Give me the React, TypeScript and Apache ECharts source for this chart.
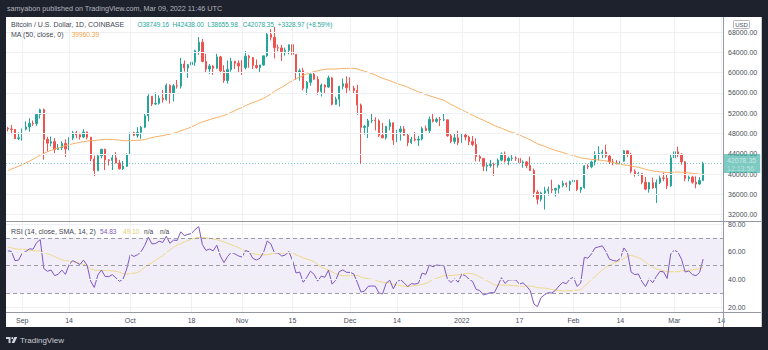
import React, { useEffect, useRef } from "react";
import * as echarts from "echarts";

// ---------- data ----------
const startYear = 2021;
const startMonth = 7; // August (0-based)
const startDay = 28;
const futureSlots = 5;

// closes before the visible window (Jul 9 - Aug 27 2021), used only for MA / RSI warm-up
const warmupCloses = [
  33800, 33500, 34250, 33100, 32700, 32800, 31850, 31400, 31550, 31800,
  30850, 29800, 32150, 32300, 33600, 34250, 35400, 37300, 39450, 40000,
  40000, 42200, 41450, 39850, 39150, 38200, 39750, 40900, 42850, 44600,
  43800, 46300, 45600, 45550, 44400, 47800, 47050, 47000, 45900, 44700,
  44800, 46700, 49300, 48900, 49300, 49550, 47700, 48950, 46850, 49050,
];

const firstOpen = 49050;

// Aug 28 2021 - Mar 9 2022
const closes = [
  48900, 48800, 46990, 47150,
  48850, 49300, 50000, 49950, 51750, 52700, 46850, 46100, 46400, 44850,
  45150, 46050, 44950, 47100, 48150, 47750, 47300, 48300, 47250, 43000,
  40700, 43600, 44900, 42800, 42700, 43200, 42200, 41050, 41550, 43800,
  48150, 47650, 48230, 49250, 51500, 55350, 53800, 53950, 54950, 54700,
  57500, 56000, 57400, 57350, 61700, 60900, 61550, 62050, 64300, 66000,
  62200, 60700, 61300, 60850, 63100, 60350, 58450, 60600, 62250, 61850, 61300,
  61000, 63250, 62950, 61400, 61000, 61500, 63300, 67550, 66950, 64900,
  64850, 64150, 64400, 65500, 63600, 60100, 60350, 56900, 58100, 59700,
  58700, 56300, 57550, 57150, 58950, 53750, 54750, 57300, 57800, 57000,
  56950, 56500, 53600, 49200, 49400, 50500, 50600, 50500, 47650, 47150,
  49400, 50100, 46700, 48350, 48900, 47650, 46200, 46850, 46700, 46900,
  49000, 48600, 50800, 50400, 50800, 50700, 50700, 47550, 46450, 47150, 46200,
  47700, 47300, 46450, 45850, 43450, 43100, 41550, 41700, 41900, 41800,
  42750, 43950, 42600, 43100, 43150, 43100, 42250, 42400, 41700, 40700,
  36450, 35050, 36300, 36700, 37000, 36850, 37200, 37750, 38200, 37950, 38500,
  38750, 36950, 37350, 41600, 41450, 42400, 43850, 44100, 44350, 43550,
  42400, 42200, 42100, 42550, 44600, 43950, 40550, 40000, 40100, 38400,
  37050, 38300, 37300, 38350, 39250, 39150, 37700, 43200,
  44400, 43950, 42450, 39150, 39400, 38400, 38050, 38749.16, 42078.35,
];

const highs = [
  49300, 49700, 48900, 48250,
  48950, 50400, 51000, 50550, 51900, 52900, 52900, 47350, 47400, 47100,
  45950, 46450, 46850, 47250, 48500, 48500, 48150, 48850, 48400, 47350,
  43650, 44000, 44950, 45000, 42950, 43900, 44350, 42800, 42600, 44100,
  48450, 48350, 49250, 49500, 51900, 55750, 55350, 56100, 55500, 56600,
  57850, 57700, 57750, 58550, 62900, 62400, 61700, 62650, 64500, 67000,
  66650, 63700, 61700, 61500, 63700, 63300, 61450, 62400, 62950, 62300, 62400,
  62450, 64250, 63500, 63050, 62600, 61550, 63300, 67800, 68550, 69000,
  65550, 65450, 64950, 65500, 66300, 63600, 60800, 60950, 58350, 59850,
  60000, 59300, 57850, 57700, 59400, 59150, 55250, 57400, 58850, 59250,
  59050, 57400, 57600, 53900, 49700, 50900, 51950, 51200, 50800, 50100,
  49500, 50800, 50200, 48700, 49500, 49450, 48000, 47350, 48300, 47550,
  49350, 49550, 51350, 51850, 51150, 51250, 52050, 50700, 48100, 47900, 48550,
  47950, 47950, 47550, 47500, 47050, 43750, 43150, 42300, 42800, 42250,
  43100, 44300, 44450, 43450, 43750, 43500, 43200, 42700, 42600, 43450,
  41100, 36850, 36550, 37500, 37550, 38900, 37250, 37950, 38700, 38350, 38750,
  39250, 38850, 37450, 41750, 41950, 42650, 44500, 45500, 44800, 45800,
  43900, 43000, 42750, 42850, 44750, 44600, 44200, 40950, 40450, 40150,
  39450, 38450, 39300, 38950, 39700, 40300, 39850, 44000,
  44950, 45400, 44100, 42500, 39700, 39650, 39550, 39400, 42438.0,
];

const lows = [
  48400, 47850, 46900, 46700,
  46600, 48600, 48350, 49500, 49500, 50950, 42850, 44450, 45500, 44150,
  44750, 44750, 43400, 44700, 46700, 47050, 46800, 47100, 46850, 42500,
  39600, 40550, 43100, 40800, 41700, 40800, 42100, 40900, 40800, 41400,
  43300, 47450, 47150, 46950, 49050, 50400, 53400, 53650, 53700, 54100,
  54450, 53900, 54300, 56850, 56850, 60200, 58950, 60150, 61350, 63500,
  62050, 60000, 59700, 59550, 60700, 59850, 58000, 57850, 60200, 60700, 59950,
  59550, 60650, 60950, 60700, 60750, 60100, 61400, 63100, 66350, 62800,
  64200, 62300, 63350, 63600, 63500, 58600, 58400, 56500, 55650, 57400,
  58500, 55650, 55300, 55900, 57000, 53550, 53650, 53300, 56700, 55850,
  56450, 55850, 51700, 42000, 47800, 47100, 50050, 48600, 47300, 47050,
  46800, 48650, 45750, 46300, 46600, 47550, 45500, 45950, 46450, 45550,
  46650, 48450, 48100, 50200, 50100, 49450, 50450, 47350, 46100, 45950, 45700,
  46200, 46650, 45700, 45500, 42500, 42450, 40600, 40550, 41250, 39650,
  41300, 42500, 42300, 41750, 42600, 42600, 41550, 41250, 41150, 40600,
  35500, 34050, 34600, 33000, 35750, 36250, 35550, 36200, 37400, 37400, 36650,
  38050, 36650, 36300, 37100, 40950, 41150, 41700, 42700, 43150, 43200,
  42000, 41750, 41900, 41600, 42450, 43350, 40150, 39500, 39650, 38000,
  36850, 36350, 37100, 34300, 38050, 38600, 37050, 37450,
  42850, 43350, 41850, 38600, 38600, 38100, 37200, 37900, 38655.98,
];

const priceTicks = [32000, 36000, 40000, 44000, 48000, 52000, 56000, 60000, 64000, 68000];
const rsiTicks = [20, 40, 60, 80];
const rsiLevels = [70, 50, 30];
const timeTickLabels: Record<string, string> = {
  "2021-09-01": "Sep",
  "2021-09-14": "14",
  "2021-10-01": "Oct",
  "2021-10-18": "18",
  "2021-11-01": "Nov",
  "2021-11-15": "15",
  "2021-12-01": "Dec",
  "2021-12-14": "14",
  "2022-01-01": "2022",
  "2022-01-17": "17",
  "2022-02-01": "Feb",
  "2022-02-14": "14",
  "2022-03-01": "Mar",
  "2022-03-14": "14",
};
const lastPriceLabel = "42078.35";
const countdownLabel = "12:13:56";

const headerText = "samyabon published on TradingView.com, Mar 09, 2022 11:46 UTC";
const symbolText = "Bitcoin / U.S. Dollar, 1D, COINBASE";
const ohlcTexts = ["O38749.16", "H42438.00", "L38655.98", "C42078.35", "+3328.97 (+8.59%)"];
const maTitle = "MA (50, close, 0)";
const maValueText = "39960.39";
const rsiTitle = "RSI (14, close, SMA, 14, 2)";
const rsiValueText = "54.83";
const rsiMaValueText = "49.10";
const naText = "n/a";

// ---------- styling ----------
const FONT = "'Liberation Sans', Arial, sans-serif";
const UP = "#26a69a";
const DOWN = "#ef5350";
const GRID = "#eef0f4";
const PANE_LINE = "#9598a1";
const AXIS_TEXT = "#4a4e59";
const DARK = "#1e222d";

function buildOption() {
  const total = closes.length + futureSlots;
  const dates: string[] = [];
  for (let i = 0; i < total; i++) {
    const d = new Date(Date.UTC(startYear, startMonth, startDay + i));
    dates.push(d.toISOString().slice(0, 10));
  }

  const candles = closes.map((c, i) => {
    const o = i === 0 ? firstOpen : closes[i - 1];
    return [o, c, lows[i], highs[i]];
  });

  const all = warmupCloses.concat(closes);
  const w = warmupCloses.length;

  // MA 50
  const ma: (number | null)[] = closes.map((_, j) => {
    const k = w + j;
    let s = 0;
    for (let t = k - 49; t <= k; t++) s += all[t];
    return +(s / 50).toFixed(2);
  });

  // RSI 14 (Wilder)
  const rsiAll: (number | null)[] = new Array(all.length).fill(null);
  let ag = 0;
  let al = 0;
  for (let i = 1; i < all.length; i++) {
    const ch = all[i] - all[i - 1];
    const g = Math.max(ch, 0);
    const l = Math.max(-ch, 0);
    if (i <= 14) {
      ag += g;
      al += l;
      if (i === 14) {
        ag /= 14;
        al /= 14;
        rsiAll[i] = al === 0 ? 100 : 100 - 100 / (1 + ag / al);
      }
    } else {
      ag = (ag * 13 + g) / 14;
      al = (al * 13 + l) / 14;
      rsiAll[i] = al === 0 ? 100 : 100 - 100 / (1 + ag / al);
    }
  }
  const rsiMaAll: (number | null)[] = rsiAll.map((_, i) => {
    if (i < 14 + 13) return null;
    let s = 0;
    for (let t = i - 13; t <= i; t++) s += rsiAll[t] as number;
    return s / 14;
  });
  const rsi = closes.map((_, j) => rsiAll[w + j]);
  const rsiMa = closes.map((_, j) => rsiMaAll[w + j]);

  const tickDates = Object.keys(timeTickLabels);
  const hidden = { show: false };
  const text = (t: string, x: number, y: number, fill: string, size = 7, extra: any = {}, z = 100) => ({
    type: "text",
    x,
    y,
    z,
    silent: true,
    style: {
      text: t,
      fill,
      fontSize: size,
      fontFamily: FONT,
      verticalAlign: "middle",
      textVerticalAlign: "middle",
      ...extra,
    },
  });
  const hline = (x1: number, x2: number, y: number, color: string) => ({
    type: "line",
    z: 100,
    silent: true,
    shape: { x1, y1: y, x2, y2: y },
    style: { stroke: color, lineWidth: 1 },
  });
  const vline = (x: number, y1: number, y2: number, color: string) => ({
    type: "line",
    z: 100,
    silent: true,
    shape: { x1: x, y1, x2: x, y2 },
    style: { stroke: color, lineWidth: 1 },
  });

  const gridLineStyle = { color: GRID, width: 1, type: "solid" };

  return {
    animation: false,
    backgroundColor: DARK,
    textStyle: { fontFamily: FONT },
    grid: [
      { left: 6, top: 17, width: 717, height: 204 },
      { left: 6, top: 221, width: 717, height: 91 },
    ],
    xAxis: [
      {
        type: "category",
        gridIndex: 0,
        data: dates,
        boundaryGap: true,
        axisLine: hidden,
        axisTick: hidden,
        axisLabel: hidden,
        splitLine: hidden,
      },
      {
        type: "category",
        gridIndex: 1,
        data: dates,
        boundaryGap: true,
        axisLine: hidden,
        axisTick: hidden,
        splitLine: hidden,
        axisLabel: {
          show: true,
          interval: (_i: number, v: string) => v in timeTickLabels,
          formatter: (v: string) => timeTickLabels[v] || "",
          fontSize: 7,
          color: AXIS_TEXT,
          margin: 5,
          fontFamily: FONT,
        },
      },
    ],
    yAxis: [
      {
        type: "value",
        gridIndex: 0,
        position: "right",
        min: 30760,
        max: 70960,
        scale: true,
        axisLine: hidden,
        axisTick: hidden,
        splitLine: hidden,
        axisLabel: {
          customValues: priceTicks,
          formatter: (v: number) => v.toFixed(2),
          fontSize: 7,
          color: AXIS_TEXT,
          margin: 5,
          fontFamily: FONT,
        },
      },
      {
        type: "value",
        gridIndex: 1,
        position: "right",
        min: 16.7,
        max: 82.2,
        axisLine: hidden,
        axisTick: hidden,
        splitLine: hidden,
        axisLabel: {
          customValues: rsiTicks,
          formatter: (v: number) => v.toFixed(2),
          fontSize: 7,
          color: AXIS_TEXT,
          margin: 5,
          fontFamily: FONT,
        },
      },
    ],
    series: [
      {
        name: "grid-main",
        type: "line",
        xAxisIndex: 0,
        yAxisIndex: 0,
        data: dates.map(() => null),
        silent: true,
        showSymbol: false,
        lineStyle: { opacity: 0 },
        z: 1,
        markLine: {
          silent: true,
          symbol: ["none", "none"],
          label: hidden,
          lineStyle: gridLineStyle,
          data: [
            ...priceTicks.map((v) => ({ yAxis: v })),
            ...tickDates.map((d) => ({ xAxis: d })),
          ],
        },
      },
      {
        name: "grid-rsi",
        type: "line",
        xAxisIndex: 1,
        yAxisIndex: 1,
        data: dates.map(() => null),
        silent: true,
        showSymbol: false,
        lineStyle: { opacity: 0 },
        z: 1,
        markArea: {
          silent: true,
          itemStyle: { color: "rgba(126,87,194,0.10)" },
          data: [[{ yAxis: rsiLevels[2] }, { yAxis: rsiLevels[0] }]],
        },
        markLine: {
          silent: true,
          symbol: ["none", "none"],
          label: hidden,
          lineStyle: gridLineStyle,
          data: [
            ...rsiTicks.map((v) => ({ yAxis: v })),
            ...tickDates.map((d) => ({ xAxis: d })),
          ],
        },
      },
      {
        name: "levels-rsi",
        type: "line",
        xAxisIndex: 1,
        yAxisIndex: 1,
        data: dates.map(() => null),
        silent: true,
        showSymbol: false,
        lineStyle: { opacity: 0 },
        z: 1,
        markLine: {
          silent: true,
          symbol: ["none", "none"],
          label: hidden,
          lineStyle: { color: "#9a9da6", width: 1, type: [4, 3] },
          data: rsiLevels.map((v) => ({ yAxis: v })),
        },
      },
      {
        name: "BTCUSD",
        type: "candlestick",
        xAxisIndex: 0,
        yAxisIndex: 0,
        data: candles,
        barWidth: 1.8,
        silent: true,
        itemStyle: {
          color: UP,
          color0: DOWN,
          borderColor: UP,
          borderColor0: DOWN,
          borderWidth: 1,
        },
        markLine: {
          silent: true,
          symbol: ["none", "none"],
          lineStyle: { color: UP, width: 1, type: [1, 2], opacity: 0.6 },
          label: {
            show: true,
            position: "end",
            distance: 0,
            formatter: `{a|${lastPriceLabel}}\n{b|${countdownLabel}}`,
            backgroundColor: UP,
            padding: [2, 4, 1, 4],
            rich: {
              a: { color: "#ffffff", fontSize: 7, lineHeight: 8, fontFamily: FONT },
              b: { color: "#e0f2f1", fontSize: 7, lineHeight: 8, fontFamily: FONT },
            },
          },
          data: [{ yAxis: closes[closes.length - 1] }],
        },
      },
      {
        name: "MA 50",
        type: "line",
        xAxisIndex: 0,
        yAxisIndex: 0,
        data: ma,
        showSymbol: false,
        silent: true,
        lineStyle: { color: "#f6b065", width: 1 },
        z: 3,
      },
      {
        name: "RSI",
        type: "line",
        xAxisIndex: 1,
        yAxisIndex: 1,
        data: rsi,
        showSymbol: false,
        silent: true,
        lineStyle: { color: "#7e57c2", width: 1 },
        z: 4,
      },
      {
        name: "RSI MA",
        type: "line",
        xAxisIndex: 1,
        yAxisIndex: 1,
        data: rsiMa,
        showSymbol: false,
        silent: true,
        lineStyle: { color: "#ecd98a", width: 1 },
        z: 3,
      },
    ],
    graphic: [
      {
        type: "rect",
        z: 0,
        silent: true,
        shape: { x: 6, y: 17, width: 756, height: 310 },
        style: { fill: "#ffffff" },
      },
      text(headerText, 7, 8.5, "#b2b5be", 7.2),
      text(symbolText, 11, 24.5, "#434651", 7),
      text(ohlcTexts[0], 137.5, 24.5, UP, 6.4),
      text(ohlcTexts[1], 172.5, 24.5, UP, 6.4),
      text(ohlcTexts[2], 207.5, 24.5, UP, 6.4),
      text(ohlcTexts[3], 242.7, 24.5, UP, 6.4),
      text(ohlcTexts[4], 277.7, 24.5, UP, 6.4),
      text(maTitle, 11, 34.5, "#434651", 7),
      text(maValueText, 71.7, 34.5, "#f5a64a", 6.6),
      text(rsiTitle, 11, 231.8, "#434651", 7),
      text(rsiValueText, 100, 231.8, "#7e57c2", 6.6),
      text(rsiMaValueText, 123, 231.8, "#e3cf6e", 6.6),
      text(naText, 144, 231.8, "#434651", 6.6),
      text(naText, 160, 231.8, "#434651", 6.6),
      hline(6, 762, 221.5, PANE_LINE),
      hline(6, 762, 312.5, PANE_LINE),
      vline(723.5, 17, 327, PANE_LINE),
      vline(761.5, 17, 327, "#c8cad0"),
      {
        type: "rect",
        z: 101,
        silent: true,
        shape: { x: 733.5, y: 20.5, width: 16, height: 8, r: 1 },
        style: { fill: "#ffffff", stroke: "#b2b5be", lineWidth: 1 },
      },
      text("USD", 741.5, 24.7, AXIS_TEXT, 6, { align: "center", textAlign: "center" }, 110),
      {
        type: "polygon",
        z: 100,
        silent: true,
        shape: { points: [[6, 337], [10.5, 337], [10.5, 343], [8.6, 343], [8.6, 338.9], [6, 338.9]] },
        style: { fill: "#d1d4dc" },
      },
      {
        type: "circle",
        z: 100,
        silent: true,
        shape: { cx: 12.3, cy: 338.1, r: 1.1 },
        style: { fill: "#d1d4dc" },
      },
      {
        type: "polygon",
        z: 100,
        silent: true,
        shape: { points: [[14.3, 337], [17.3, 337], [14.3, 343], [11.6, 343]] },
        style: { fill: "#d1d4dc" },
      },
      text("TradingView", 20, 340, "#c9ccd3", 8),
    ],
  };
}

export default function App() {
  const ref = useRef<HTMLDivElement>(null);
  useEffect(() => {
    if (!ref.current) return;
    const chart = echarts.init(ref.current, undefined, { renderer: "svg" });
    chart.setOption(buildOption() as any);
    return () => chart.dispose();
  }, []);
  return (
    <div
      ref={ref}
      style={{ position: "fixed", left: 0, top: 0, width: 768, height: 350 }}
    />
  );
}
